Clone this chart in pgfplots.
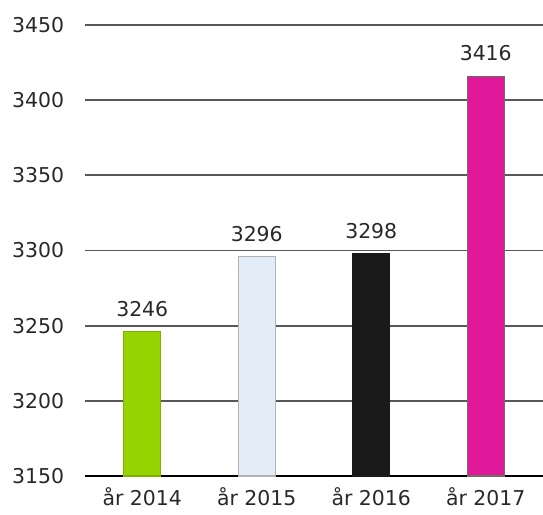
\documentclass[border=0pt]{standalone}
\usepackage{pgfplots}
\pgfplotsset{compat=1.18}
\usepackage{fontspec}
\setmainfont{DejaVu Sans}
\definecolor{cgreen}{RGB}{150,212,0}
\definecolor{cgreenb}{RGB}{125,178,0}
\definecolor{cblue}{RGB}{227,237,247}
\definecolor{cblueb}{RGB}{176,178,180}
\definecolor{cblack}{RGB}{26,26,26}
\definecolor{cmag}{RGB}{224,24,154}
\definecolor{cmagb}{RGB}{112,110,100}
\definecolor{ctext}{RGB}{40,40,40}
\definecolor{cgrid}{RGB}{88,88,88}
\begin{document}
\begin{tikzpicture}
\useasboundingbox (-85bp,-39bp) rectangle (458bp,476bp);
\begin{axis}[
  at={(0,0)}, anchor=south west,
  scale only axis, width=458bp, height=451bp,
  xmin=-0.5, xmax=3.5, ymin=3150, ymax=3450,
  ytick={3150,3200,...,3450},
  xtick={0,1,2,3},
  xticklabels={år 2014, år 2015, år 2016, år 2017},
  ymajorgrids, grid style={cgrid, line width=1.7bp},
  axis x line*=bottom,
  separate axis lines,
  x axis line style={black, line width=2.2bp, -},
  y axis line style={draw=none},
  major tick length=0pt,
  font=\fontsize{20.5}{24}\selectfont,
  /pgf/number format/assume math mode=true,
  /pgf/number format/1000 sep={},
  yticklabel style={anchor=west, inner sep=0pt, xshift=-73bp, text=ctext},
  xticklabel style={anchor=base, inner sep=0pt, yshift=-29bp, text=ctext},
  ybar, bar width=37bp, bar shift=0pt,
  nodes near coords,
  every node near coord/.append style={anchor=base, inner sep=0pt, yshift=15.5bp, text=ctext,
     /pgf/number format/assume math mode=true, /pgf/number format/1000 sep={}},
  clip=false,
]
\addplot[fill=cgreen, draw=cgreenb, line width=1.2bp] coordinates {(0,3246)};
\addplot[fill=cblue, draw=cblueb, line width=1.5bp] coordinates {(1,3296)};
\addplot[fill=cblack, draw=cblack, line width=1bp] coordinates {(2,3298)};
\addplot[fill=cmag, draw=cmagb, line width=1.2bp] coordinates {(3,3416)};
\end{axis}
\end{tikzpicture}
\end{document}
